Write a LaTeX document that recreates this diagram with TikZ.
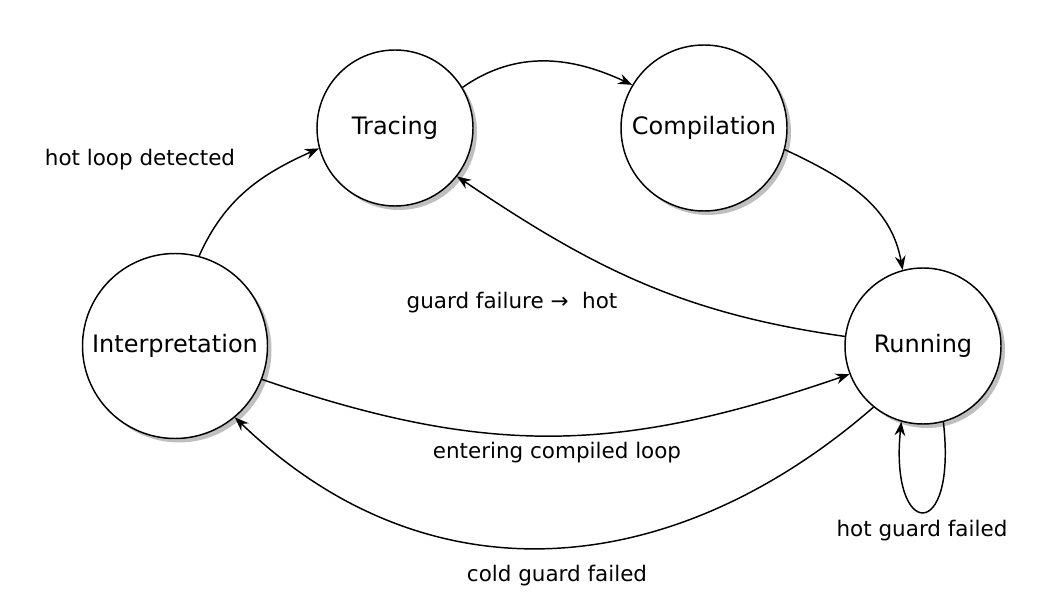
\documentclass[tikz,border=0pt]{standalone}
\usepackage{fontspec}
\setmainfont{DejaVu Sans}
\usetikzlibrary{arrows.meta,shadows}
\begin{document}
\begin{tikzpicture}[x=0.75pt,y=0.75pt,
  state/.style={circle,draw=black,line width=1.1pt,fill=white,inner sep=0pt,
    font=\fontsize{18}{21}\selectfont,
    drop shadow={shadow xshift=3pt,shadow yshift=-3pt,fill=black!25,opacity=1}},
  lbl/.style={font=\fontsize{16.1}{19}\selectfont,inner sep=0pt},
  edge/.style={line width=1.1pt,-{Stealth[length=10.5pt,width=8pt,inset=3.5pt]}}]
\useasboundingbox (0,0) rectangle (1057,608);
\node[state,minimum size=117pt] (tracing) at (395,480) {Tracing};
\node[state,minimum size=124.5pt] (comp) at (704,480) {Compilation};
\node[state,minimum size=138.75pt] (interp) at (175,262) {Interpretation};
\node[state,minimum size=117pt] (run) at (923,262) {Running};
\draw[edge] (interp.75) to[out=66,in=204] (tracing.195);
\draw[edge] (tracing.31) to[out=35,in=155] (comp.149);
\draw[edge] (comp.345) to[out=-25,in=100] (run.105);
\draw[edge] (run.173) to[out=172,in=-34] (tracing.322);
\draw[edge] (interp.339) to[out=-19,in=199,looseness=1.05] (run.201);
\draw[edge] (run.231) to[out=221,in=316,looseness=1.07] (interp.310);
\draw[edge] (run.-75) .. controls +(14,-122) and +(-12,-118) .. (run.-106);
\node[lbl] (l1) at (140,448) {hot loop detected};
\node[lbl] (l2) at (512,305) {guard failure →\ \ hot};
\node[lbl] (l3) at (557,155) {entering compiled loop};
\node[lbl] (l4) at (557,32) {cold guard failed};
\node[lbl] (l5) at (922,77) {hot guard failed};
\end{tikzpicture}
\end{document}
